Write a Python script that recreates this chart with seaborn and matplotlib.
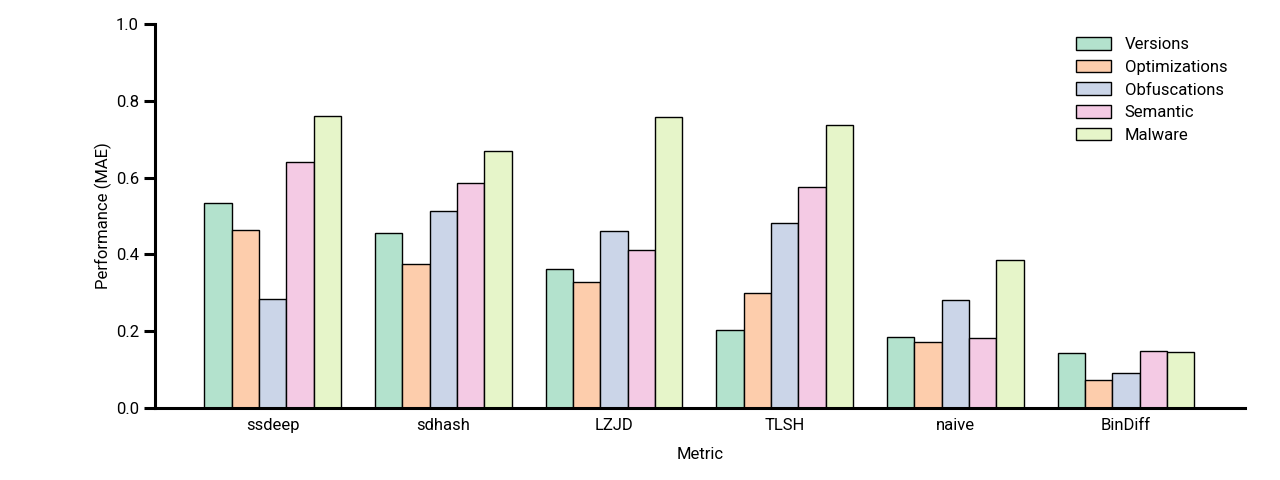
import numpy as np
import pandas as pd
import matplotlib
matplotlib.use("Agg")
import matplotlib.pyplot as plt
import seaborn as sns

# values
metrics = ["ssdeep", "sdhash", "LZJD", "TLSH", "naive", "BinDiff"]
tasks = ["Versions", "Optimizations", "Obfuscations", "Semantic", "Malware"]
versions = [0.533, 0.457, 0.361, 0.204, 0.184, 0.142]
optimizations = [0.463, 0.376, 0.329, 0.300, 0.171, 0.072]
obfuscations = [0.285, 0.512, 0.460, 0.483, 0.280, 0.090]
semantic = [0.641, 0.585, 0.411, 0.575, 0.181, 0.148]
malware = [0.761, 0.670, 0.759, 0.738, 0.385, 0.145]

series = [versions, optimizations, obfuscations, semantic, malware]
df = pd.DataFrame({
    "Metric": metrics * len(tasks),
    "Task": np.repeat(tasks, len(metrics)),
    "MAE": np.concatenate(series),
})

sns.set_style("ticks", {"axes.edgecolor": "black", "text.color": "black",
                        "axes.labelcolor": "black", "xtick.color": "black",
                        "ytick.color": "black"})
plt.rcParams["font.family"] = ["Roboto", "DejaVu Sans"]
plt.rcParams["font.size"] = 12

fig = plt.figure(figsize=(12.8, 4.8), dpi=100)
ax = fig.add_axes([0.121, 0.15, 0.852, 0.80])

sns.barplot(data=df, x="Metric", y="MAE", hue="Task", order=metrics,
            hue_order=tasks, palette="Pastel2", edgecolor="black",
            linewidth=1, saturation=1, ax=ax)

ax.set_ylim(0, 1.0)
ax.set_xlim(-0.69, 5.70)
ax.set_yticks([0, 0.2, 0.4, 0.6, 0.8, 1.0])
ax.set_yticklabels(["0.0", "0.2", "0.4", "0.6", "0.8", "1.0"])
ax.set_xlabel("Metric", fontsize=12, labelpad=10)
ax.set_ylabel("Performance (MAE)", fontsize=12, labelpad=3)

sns.despine(ax=ax)
ax.spines["left"].set_linewidth(2.2)
ax.spines["bottom"].set_linewidth(2.2)
ax.tick_params(axis="y", direction="out", length=8, width=2.2, labelsize=12)
ax.tick_params(axis="x", length=0, labelsize=12, pad=7)

leg = ax.legend(loc="upper right", frameon=False, fontsize=12,
                bbox_to_anchor=(0.997, 1.005), handlelength=2.1,
                handleheight=0.8, labelspacing=0.45, handletextpad=0.8)

fig.savefig("out.png", dpi=100)
